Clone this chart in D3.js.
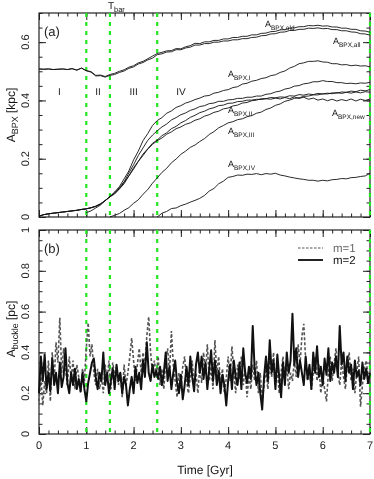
<!DOCTYPE html>
<html><head><meta charset="utf-8">
<script src="https://cdn.jsdelivr.net/npm/d3@7"></script>
<style>body{margin:0;background:#fff}svg{display:block;will-change:transform}text{font-family:"Liberation Sans",Arial,Helvetica,sans-serif;text-rendering:geometricPrecision}</style>
</head><body><svg id="c" width="374" height="479"></svg>
<script>
// ---------------- DATA ----------------
const tStepTop = 0.1;   // sampling of top-panel curves (Gyr), t = 0..7
const tStepBot = 0.04;  // sampling of bottom-panel curves (Gyr), t = 0..7
const phaseLines = [1, 1.5, 2.5, 7];
const phaseLabels = ["I", "II", "III", "IV"];
const phaseLabelT = [0.43, 1.25, 2.0, 3.0];
const xTicks = [0,1,2,3,4,5,6,7];
const yTicksTop = [0,0.2,0.4,0.6];
const yTicksBot = [0,0.2,0.4,0.6,0.8,1];

const bpxOld = [0.508,0.507,0.508,0.506,0.507,0.508,0.506,0.509,0.504,0.511,0.502,
 0.499,0.486,0.487,0.482,0.489,0.493,0.500,0.505,0.514,0.519,
 0.529,0.534,0.543,0.552,0.561,0.565,0.570,0.571,0.578,0.577,
 0.584,0.588,0.596,0.595,0.601,0.601,0.606,0.606,0.611,0.611,
 0.616,0.616,0.620,0.620,0.625,0.625,0.630,0.631,0.636,0.637,
 0.642,0.643,0.648,0.649,0.653,0.653,0.657,0.656,0.658,0.655,
 0.656,0.652,0.652,0.648,0.648,0.644,0.644,0.639,0.638,0.634];
const bpxAll = [0.508,0.507,0.508,0.506,0.507,0.508,0.506,0.509,0.504,0.511,0.502,
 0.497,0.484,0.485,0.480,0.486,0.489,0.496,0.501,0.510,0.515,
 0.525,0.530,0.539,0.545,0.557,0.560,0.566,0.567,0.574,0.574,
 0.580,0.583,0.590,0.590,0.595,0.595,0.600,0.600,0.604,0.604,
 0.608,0.608,0.612,0.612,0.616,0.617,0.622,0.623,0.628,0.629,
 0.634,0.635,0.640,0.640,0.644,0.644,0.648,0.647,0.649,0.646,
 0.647,0.643,0.643,0.639,0.639,0.635,0.634,0.629,0.628,0.624];
const bpxI = [0.003,0.008,0.011,0.013,0.015,0.017,0.019,0.021,0.023,0.026,0.028,
 0.032,0.037,0.045,0.056,0.070,0.086,0.104,0.131,0.158,0.196,
 0.226,0.262,0.286,0.314,0.331,0.341,0.356,0.364,0.376,0.382,
 0.391,0.396,0.403,0.408,0.415,0.417,0.425,0.428,0.434,0.437,
 0.444,0.447,0.456,0.459,0.466,0.469,0.475,0.478,0.485,0.488,
 0.496,0.501,0.511,0.517,0.526,0.529,0.534,0.534,0.536,0.532,
 0.531,0.526,0.526,0.522,0.523,0.519,0.521,0.518,0.519,0.515];
const bpxII = [0.003,0.008,0.011,0.013,0.015,0.017,0.019,0.021,0.023,0.026,0.028,
 0.032,0.037,0.045,0.056,0.070,0.082,0.101,0.121,0.151,0.179,
 0.211,0.237,0.263,0.281,0.296,0.309,0.319,0.333,0.341,0.351,
 0.357,0.366,0.371,0.379,0.382,0.389,0.391,0.397,0.397,0.402,
 0.403,0.407,0.407,0.411,0.411,0.415,0.415,0.421,0.423,0.429,
 0.432,0.439,0.442,0.449,0.451,0.457,0.459,0.464,0.464,0.468,
 0.465,0.465,0.461,0.461,0.458,0.459,0.457,0.460,0.459,0.462];
const bpxNew = [0.003,0.008,0.011,0.013,0.015,0.017,0.019,0.021,0.023,0.026,0.028,
 0.031,0.036,0.044,0.056,0.070,0.083,0.097,0.119,0.141,0.169,
 0.191,0.216,0.234,0.253,0.264,0.279,0.289,0.303,0.311,0.323,
 0.331,0.342,0.349,0.358,0.363,0.371,0.375,0.382,0.384,0.390,
 0.391,0.396,0.397,0.401,0.401,0.404,0.403,0.406,0.404,0.408,
 0.405,0.410,0.406,0.412,0.407,0.411,0.404,0.408,0.401,0.405,
 0.399,0.404,0.398,0.403,0.399,0.405,0.398,0.404,0.400,0.405];
const bpxMid = [null,null,null,null,null,null,null,null,null,null,0.015,
 0.021,0.031,0.041,0.057,0.069,0.079,0.096,0.114,0.141,0.164,
 0.191,0.211,0.233,0.249,0.262,0.271,0.284,0.292,0.303,0.309,
 0.318,0.323,0.332,0.337,0.346,0.351,0.359,0.363,0.371,0.374,
 0.381,0.384,0.391,0.393,0.399,0.401,0.406,0.406,0.410,0.409,
 0.412,0.411,0.416,0.415,0.420,0.418,0.422,0.420,0.424,0.422,
 0.425,0.423,0.427,0.424,0.428,0.425,0.429,0.426,0.430,0.428];
const bpxIII = [null,null,null,null,null,null,null,null,null,null,null,null,null,null,null,
 0.000,0.006,0.012,0.023,0.032,0.047,0.059,0.078,0.094,0.116,0.134,
 0.153,0.167,0.186,0.199,0.215,0.226,0.239,0.247,0.259,0.269,
 0.283,0.293,0.306,0.314,0.323,0.327,0.334,0.337,0.344,0.348,
 0.356,0.360,0.369,0.374,0.383,0.388,0.397,0.401,0.407,0.409,
 0.414,0.415,0.419,0.419,0.423,0.422,0.426,0.425,0.429,0.428,
 0.432,0.430,0.435,0.433,0.437];
const bpxIV = [null,null,null,null,null,null,null,null,null,null,null,null,null,null,null,
 null,null,null,null,null,null,null,null,null,null,
 0.000,0.013,0.019,0.029,0.031,0.039,0.044,0.051,0.057,0.064,0.074,
 0.089,0.098,0.114,0.123,0.136,0.139,0.144,0.143,0.147,0.146,
 0.149,0.145,0.149,0.147,0.150,0.144,0.141,0.137,0.134,0.131,
 0.129,0.126,0.126,0.123,0.126,0.124,0.128,0.129,0.132,0.131,
 0.135,0.136,0.139,0.141,0.150];

const buckleM2 = [0.20,0.38,0.26,0.39,0.22,0.30,0.21,0.37,0.24,0.30,
 0.20,0.35,0.23,0.28,0.42,0.25,0.20,0.30,0.24,0.32,
 0.22,0.27,0.21,0.30,0.22,0.16,0.25,0.30,0.35,0.37,
 0.28,0.22,0.30,0.26,0.40,0.24,0.30,0.20,0.26,0.32,
 0.22,0.34,0.26,0.30,0.20,0.28,0.24,0.14,0.22,0.28,
 0.20,0.33,0.25,0.30,0.22,0.36,0.28,0.45,0.30,0.26,
 0.34,0.28,0.31,0.27,0.33,0.24,0.30,0.40,0.26,0.33,
 0.22,0.30,0.36,0.25,0.20,0.29,0.17,0.24,0.33,0.24,
 0.38,0.28,0.21,0.34,0.40,0.30,0.38,0.27,0.35,0.22,
 0.32,0.41,0.26,0.36,0.24,0.31,0.20,0.29,0.24,0.14,
 0.26,0.34,0.22,0.36,0.28,0.24,0.35,0.22,0.42,0.30,
 0.25,0.33,0.27,0.53,0.32,0.24,0.30,0.20,0.12,0.28,
 0.38,0.26,0.46,0.30,0.36,0.22,0.39,0.28,0.18,0.35,
 0.24,0.40,0.30,0.36,0.59,0.34,0.42,0.28,0.36,0.30,
 0.24,0.38,0.27,0.34,0.22,0.40,0.30,0.43,0.28,0.33,
 0.24,0.37,0.29,0.42,0.26,0.35,0.30,0.38,0.28,0.53,
 0.34,0.40,0.26,0.38,0.30,0.34,0.22,0.36,0.28,0.31,
 0.24,0.35,0.27,0.32,0.25,0.30];
const buckleM1 = [0.16,0.28,0.14,0.26,0.20,0.36,0.16,0.40,0.26,0.45,
 0.35,0.57,0.30,0.42,0.32,0.24,0.38,0.27,0.36,0.22,
 0.34,0.28,0.20,0.32,0.26,0.42,0.545,0.38,0.44,0.30,
 0.24,0.32,0.22,0.28,0.20,0.34,0.26,0.36,0.22,0.35,
 0.28,0.33,0.24,0.30,0.18,0.34,0.24,0.30,0.38,0.47,
 0.36,0.26,0.34,0.42,0.30,0.40,0.33,0.48,0.575,0.40,
 0.30,0.36,0.28,0.38,0.24,0.32,0.22,0.36,0.42,0.30,
 0.505,0.34,0.26,0.18,0.30,0.22,0.33,0.38,0.26,0.20,
 0.28,0.36,0.24,0.30,0.20,0.33,0.25,0.40,0.30,0.44,
 0.26,0.33,0.22,0.46,0.30,0.38,0.24,0.32,0.20,0.27,
 0.38,0.26,0.43,0.30,0.20,0.34,0.27,0.38,0.24,0.32,
 0.18,0.29,0.22,0.34,0.26,0.36,0.20,0.30,0.16,0.24,
 0.32,0.22,0.36,0.28,0.40,0.24,0.32,0.20,0.30,0.38,
 0.26,0.34,0.22,0.30,0.26,0.36,0.28,0.44,0.34,0.48,
 0.54,0.36,0.26,0.32,0.22,0.30,0.38,0.26,0.34,0.20,
 0.28,0.22,0.16,0.30,0.38,0.26,0.34,0.42,0.30,0.24,
 0.36,0.28,0.22,0.34,0.40,0.26,0.32,0.20,0.30,0.38,
 0.134,0.24,0.32,0.36,0.28,0.24];

// ---------------- CHART ----------------
const svg = d3.select("#c");
const x = d3.scaleLinear().domain([0,7]).range([39,370]);
const yTop = d3.scaleLinear().domain([0,0.7]).range([217,13]);
const yBot = d3.scaleLinear().domain([0,1]).range([434,230]);
const tTop = bpxI.map((_,i)=>+(i*tStepTop).toFixed(3));
const tBot = buckleM2.map((_,i)=>+(i*tStepBot).toFixed(3));

function frame(y, minorStep, labels){
  const g = svg.append("g");
  const [y0,y1] = y.range();
  const minorY = d3.range(0, y.domain()[1]+1e-9, minorStep);
  const minorX = d3.range(0, 7.0001, 0.2);
  const add = (axis, tr) => g.append("g").attr("transform", tr).call(axis)
      .call(s=>{s.select(".domain").remove(); s.selectAll("line").attr("stroke","#222");});
  add(d3.axisLeft(y).tickValues(minorY).tickSize(-3.5).tickFormat(""), `translate(${x(0)},0)`);
  add(d3.axisLeft(y).tickValues(labels).tickSize(-7).tickFormat(""), `translate(${x(0)},0)`);
  add(d3.axisRight(y).tickValues(minorY).tickSize(-3.5).tickFormat(""), `translate(${x(7)},0)`);
  add(d3.axisRight(y).tickValues(labels).tickSize(-7).tickFormat(""), `translate(${x(7)},0)`);
  add(d3.axisBottom(x).tickValues(minorX).tickSize(-3.5).tickFormat(""), `translate(0,${y0})`);
  add(d3.axisBottom(x).tickValues(xTicks).tickSize(-7).tickFormat(""), `translate(0,${y0})`);
  add(d3.axisTop(x).tickValues(minorX).tickSize(-3.5).tickFormat(""), `translate(0,${y1})`);
  add(d3.axisTop(x).tickValues(xTicks).tickSize(-7).tickFormat(""), `translate(0,${y1})`);
  g.append("rect").attr("x",x(0)).attr("y",y1).attr("width",x(7)-x(0)).attr("height",y0-y1)
    .attr("fill","none").attr("stroke","#222").attr("stroke-width",1.2);
  labels.forEach(v=>{
    svg.append("text").attr("transform",`translate(29,${y(v)}) rotate(-90)`)
      .attr("text-anchor","middle").attr("font-size",11).attr("fill","#222").text(d3.format("")(v));
  });
  phaseLines.forEach(t=>{
    svg.append("line").attr("x1",x(t)).attr("x2",x(t)).attr("y1",y1).attr("y2",y0)
      .attr("stroke","#22e622").attr("stroke-width",2.2).attr("stroke-dasharray","4,5");
  });
}
frame(yTop, 0.05, yTicksTop);
frame(yBot, 0.05, yTicksBot);

// top panel curves
const lineTop = d3.line().defined(d=>d[1]!==null).x(d=>x(d[0])).y(d=>yTop(d[1]));
[bpxOld,bpxAll,bpxI,bpxII,bpxNew,bpxMid,bpxIII,bpxIV].forEach(arr=>{
  svg.append("path").attr("d", lineTop(arr.map((v,i)=>[tTop[i],v])))
    .attr("fill","none").attr("stroke","#111").attr("stroke-width",0.9).attr("stroke-linejoin","round");
});
// bottom panel
const lineBot = d3.line().x(d=>x(d[0])).y(d=>yBot(d[1]));
svg.append("path").attr("d", lineBot(buckleM1.map((v,i)=>[tBot[i],v])))
  .attr("fill","none").attr("stroke","#555").attr("stroke-width",1.6).attr("stroke-dasharray","3,2");
svg.append("path").attr("d", lineBot(buckleM2.map((v,i)=>[tBot[i],v])))
  .attr("fill","none").attr("stroke","#111").attr("stroke-width",2).attr("stroke-linejoin","round");

// phase labels
phaseLabels.forEach((s,i)=>{
  svg.append("text").attr("x",x(phaseLabelT[i])).attr("y",yTop(0.42)).attr("text-anchor","middle")
    .attr("font-size",10).attr("fill","#222").text(s);
});

// curve labels
function lab(px,py,sub){
  const t = svg.append("text").attr("x",px).attr("y",py).attr("font-size",9).attr("fill","#111");
  t.append("tspan").text("A");
  t.append("tspan").attr("font-size",6.5).attr("dy",2.5).text(sub);
}
lab(265,27,"BPX,old");
lab(333,44,"BPX,all");
lab(228,77,"BPX,I");
lab(228,113,"BPX,II");
lab(332,116,"BPX,new");
lab(228,134,"BPX,III");
lab(228,167,"BPX,IV");

// T_bar
const tb = svg.append("text").attr("x",x(1.5)-2).attr("y",9).attr("font-size",10).attr("fill","#111");
tb.append("tspan").text("T");
tb.append("tspan").attr("font-size",7.5).attr("dy",2.5).text("bar");

// panel tags
svg.append("text").attr("x",44).attr("y",36).attr("font-size",13).attr("fill","#222").text("(a)");
svg.append("text").attr("x",44).attr("y",253).attr("font-size",13).attr("fill","#222").text("(b)");

// axis titles
const ya = svg.append("text").attr("transform","translate(15,115) rotate(-90)").attr("text-anchor","middle")
  .attr("font-size",12).attr("fill","#111");
ya.append("tspan").text("A");
ya.append("tspan").attr("font-size",9).attr("dy",3).text("BPX");
ya.append("tspan").attr("dy",-3).text(" [kpc]");
const yb = svg.append("text").attr("transform","translate(15,329) rotate(-90)").attr("text-anchor","middle")
  .attr("font-size",12).attr("fill","#111");
yb.append("tspan").text("A");
yb.append("tspan").attr("font-size",9).attr("dy",3).text("buckle");
yb.append("tspan").attr("dy",-3).text(" [pc]");

// x tick labels
xTicks.forEach(t=>{
  svg.append("text").attr("x",x(t)).attr("y",449).attr("text-anchor","middle").attr("font-size",11)
    .attr("fill","#222").text(t);
});
svg.append("text").attr("x",205).attr("y",474).attr("text-anchor","middle").attr("font-size",12)
  .attr("fill","#111").text("Time [Gyr]");

// legend
svg.append("line").attr("x1",298).attr("x2",323).attr("y1",248).attr("y2",248)
  .attr("stroke","#555").attr("stroke-width",1.2).attr("stroke-dasharray","2.5,1.5");
svg.append("text").attr("x",333).attr("y",252).attr("font-size",11.5).attr("fill","#666").text("m=1");
svg.append("line").attr("x1",298).attr("x2",323).attr("y1",260).attr("y2",260)
  .attr("stroke","#222").attr("stroke-width",2);
svg.append("text").attr("x",333).attr("y",264).attr("font-size",11.5).attr("fill","#111").text("m=2");
</script></body></html>
